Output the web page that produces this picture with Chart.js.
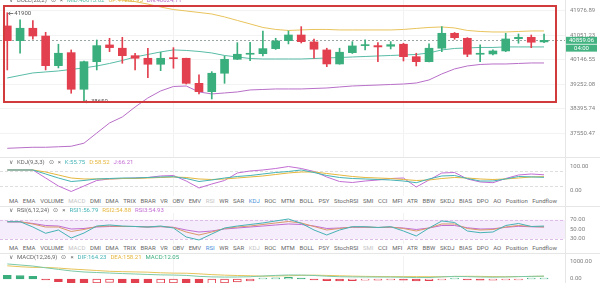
<!DOCTYPE html>
<html>
<head>
<meta charset="utf-8">
<script src="https://cdn.jsdelivr.net/npm/chart.js@4.4.1/dist/chart.umd.min.js"></script>
<style>
body{margin:0;background:#fff;font-family:Roboto,"Noto Sans",sans-serif}
#wrap{position:relative;width:600px;height:283px;overflow:hidden;background:#fff}
canvas{position:absolute;left:0}
.sep{position:absolute;background:#e6e6e6}
.title{position:absolute;left:9px;font-size:6px;color:#666;white-space:nowrap;line-height:8px}
.title span{margin-right:4px}
.tabs{position:absolute;left:9px;width:548px;display:flex;justify-content:space-between;font-size:6px;color:#666;line-height:8px;white-space:nowrap}
.box{position:absolute;left:3px;top:5px;width:554px;height:98px;border:2px solid #d23b3b;box-sizing:border-box}
</style>
</head>
<body>
<div id="wrap">
  <canvas id="main" width="600" height="157" style="top:0"></canvas>
  <canvas id="kdj" width="600" height="36" style="top:160px"></canvas>
  <canvas id="rsi" width="600" height="31" style="top:213px"></canvas>
  <canvas id="macd" width="600" height="27" style="top:256px"></canvas>
  <div class="sep" style="left:0;top:157px;width:600px;height:1px"></div>
  <div class="sep" style="left:0;top:206px;width:600px;height:1px"></div>
  <div class="sep" style="left:0;top:253px;width:600px;height:1px"></div>
  <div class="sep" style="left:565px;top:0;width:1px;height:283px"></div>
  <div class="box"></div>
  <div class="title" id="tBoll" style="top:-4px"></div>
  <div class="title" id="tKdj" style="top:158px"></div>
  <div class="tabs" id="tabs1" style="top:197px"></div>
  <div class="title" id="tRsi" style="top:206px"></div>
  <div class="tabs" id="tabs2" style="top:244px"></div>
  <div class="title" id="tMacd" style="top:253px"></div>
</div>
<script>
// candles (4h)
const open  = [41398,40847,41311,41020,39927,40403,39077,40072,40688,40566,40292,40196,39978,40218,40196,39290,38992,39652,40159,40344,40366,40551,40847,41058,40799,40503,39989,40403,40662,40662,40640,40714,40255,40072,40566,41122,40935,40344,40355,40466,40921,40972,40800]
const high  = [41900,41625,41599,41160,40714,40503,40090,40872,40935,40972,40381,40566,40418,40588,40200,39591,39710,40281,40773,40788,41209,40936,41209,41372,40910,40566,40566,40810,40873,40773,40810,40751,40381,40725,41372,41152,40960,40688,40503,41122,41096,41058,41096]
const low   = [39771,40381,40898,39771,39844,38936,38650,39771,40440,40014,39771,39493,39746,39833,39265,38911,38734,39290,40150,40108,40281,40521,40725,40761,40196,39891,39980,40373,40503,40072,40540,40097,39916,40065,40440,40898,40255,40072,40318,40440,40751,40588,40773]
const close = [40847,41311,41020,39927,40381,39077,40072,40662,40588,40292,40196,39978,40196,40181,39290,38992,39652,40159,40344,40381,40551,40836,41058,40810,40529,39989,40418,40651,40699,40614,40699,40255,40072,40566,41122,40958,40344,40381,40466,40910,40972,40788,40859.06]

// BOLL(20,2)
const bollUp  = [42533,42571,42609,42609,42609,42609,42571,42533,42457,42382,42325,42230,42117,42022,41966,41909,41852,41739,41606,41474,41341,41266,41228,41247,41266,41266,41247,41247,41247,41247,41247,41266,41304,41341,41360,41322,41228,41190,41171,41171,41190,41209,41208.95]
const bollMid = [39482,39573,39663,39699,39735,39790,39844,39916,40007,40115,40244,40336,40429,40503,40484,40447,40392,40299,40244,40188,40170,40170,40170,40170,40188,40207,40225,40244,40262,40281,40299,40318,40336,40392,40503,40558,40577,40595,40595,40614,40614,40614,40613.62]
const bollDn  = [37031,37049,37066,37066,37083,37101,37204,37550,37896,38104,38451,38769,39017,39176,39194,38982,38911,38946,38982,39053,39070,39088,39088,39088,39106,39123,39159,39194,39212,39229,39247,39265,39301,39410,39627,39808,39916,39970,39988,39988,40007,40025,40024.71]

// KDJ(9,3,3)
const kdjK = [86.3,86.3,86.3,69.6,52.9,38.3,42.5,48.8,50.8,52.9,52.9,55.0,57.1,58.3,50.8,38.3,44.6,52.9,59.2,63.3,69.6,75.8,80.0,86.3,75.8,63.3,55.0,50.8,48.8,46.7,44.6,40.4,33.3,48.8,61.3,63.3,50.8,40.4,40.4,48.8,59.2,57.5,55.75]
const kdjD = [86.3,86.3,86.3,77.9,65.4,52.9,48.8,48.8,48.8,50.8,50.8,52.9,55.0,57.1,55.0,48.8,46.7,48.8,52.9,57.1,61.3,67.5,73.8,77.9,77.9,71.7,65.4,59.2,55.0,52.9,50.8,46.7,42.5,44.6,50.8,55.0,52.9,48.8,46.7,48.8,52.9,57.1,58.52]
const kdjJ = [86.3,86.3,86.3,52.9,19.6,-3.3,19.6,42.5,48.8,50.8,52.9,55.0,61.3,63.3,40.4,11.3,27.9,42.5,73.8,82.1,86.3,92.5,100.8,92.5,80.0,57.1,38.3,34.2,40.4,44.6,50.8,52.9,15.4,44.6,73.8,75.8,48.8,36.3,33.3,50.8,65.4,69.6,66.21]

// RSI(6,12,24)
const rsi1 = [66.0,66.0,54.8,41.6,48.5,31.7,42.2,56.9,59.1,56.9,55.9,54.8,56.9,52.7,33.8,27.5,40.1,52.7,56.9,60.1,63.3,67.5,71.7,62.6,48.5,38.0,48.5,55.5,55.5,53.8,55.5,46.4,35.9,52.7,67.5,64.3,46.4,42.8,44.3,58.0,62.2,55.9,56.79]
const rsi2 = [66.0,66.0,61.2,54.8,54.8,45.4,49.6,55.9,56.9,55.9,55.9,54.8,55.9,53.8,44.3,38.0,44.3,51.7,54.8,56.9,60.1,63.3,66.4,63.3,55.9,48.5,51.7,54.8,54.8,53.8,54.8,51.7,46.4,52.7,61.2,61.2,51.7,48.5,49.6,54.8,58.0,55.9,54.88]
const rsi3 = [65.4,65.4,62.2,58.0,56.9,50.6,51.7,54.8,55.9,55.9,55.9,54.8,55.5,54.2,48.5,44.3,46.4,50.6,52.7,54.8,56.9,59.1,61.2,60.1,56.9,51.7,52.7,54.2,54.2,53.8,54.2,52.7,49.6,52.7,58.0,58.0,53.2,50.6,51.1,54.2,56.3,55.3,54.93]

// MACD(12,26,9)
const dif  = [860,800,740,640,550,460,400,370,340,310,285,260,235,225,205,150,120,110,115,130,170,205,230,225,200,160,130,120,115,112,110,100,80,85,120,150,135,115,105,115,135,150,164.23]
const dea  = [755,700,665,660,625,570,530,485,440,420,405,390,355,335,330,295,250,220,200,185,160,175,185,205,220,205,185,165,150,142,135,135,135,130,130,145,155,150,135,130,140,148,158.21]
const hist = [210,200,150,-40,-150,-220,-260,-230,-200,-220,-240,-260,-240,-220,-250,-290,-260,-220,-170,-110,20,60,90,40,-40,-90,-110,-90,-70,-60,-50,-70,-110,-90,-20,10,-40,-70,-60,-30,-10,5,12.05]

const priceTicks = [41976.89, 41051.23, 40146.55, 39252.08, 38395.74, 37550.47]
const countdown = '04:00'
const tabs = ['MA','EMA','VOLUME','MACD','DMI','DMA','TRIX','BRAR','VR','OBV','EMV','RSI','WR','SAR','KDJ','ROC','MTM','BOLL','PSY','StochRSI','SMI','CCI','MFI','ATR','BBW','SKDJ','BIAS','DPO','AO','Position','Fundflow']

const UP = '#3aae7c', DOWN = '#e2404f'
const C1 = '#45b3b5', C2 = '#e6b73e', C3 = '#c26dd3'

Chart.defaults.font.family = 'Roboto'
Chart.defaults.font.size = 6

const pts = arr => arr.map((v, i) => ({ x: i, y: v }))
const line = (arr, color) => ({ type: 'line', data: pts(arr), borderColor: color, borderWidth: 1, pointRadius: 0, tension: 0, order: 5 })

function xAxis() {
  return {
    type: 'linear', min: -0.571, max: 43.64, offset: false,
    afterBuildTicks: s => { s.ticks = [13, 31].map(v => ({ value: v })) },
    afterFit: s => { s.height = 0 },
    ticks: { display: false },
    grid: { color: '#f2f2f2', drawTicks: false, offset: false },
    border: { display: false }
  }
}
function yAxis(type, min, max, ticks, grid) {
  return {
    type, position: 'right', min, max,
    afterBuildTicks: s => { s.ticks = ticks.map(v => ({ value: v })) },
    afterFit: s => { s.width = 35; s.paddingTop = 0; s.paddingBottom = 0 },
    grid: { display: grid, color: '#f3f3f3', drawTicks: false },
    border: { display: false },
    ticks: { padding: 5, color: '#808080', font: { size: 6 }, callback: v => Number(v).toFixed(2) }
  }
}
function options(y, plug) {
  return {
    responsive: false, animation: false, events: [],
    layout: { padding: 0 },
    scales: { x: xAxis(), y },
    plugins: Object.assign({ legend: { display: false }, tooltip: { enabled: false } }, plug || {})
  }
}

// dashed reference lines / band, drawn with the chart's y scale
const refLines = {
  id: 'refLines',
  beforeDatasetsDraw(chart, args, o) {
    const { ctx, chartArea: a, scales: { y } } = chart
    ctx.save()
    if (o.band) {
      const t = y.getPixelForValue(o.band[1]), b = y.getPixelForValue(o.band[0])
      ctx.fillStyle = o.bandColor
      ctx.fillRect(a.left, t, a.right - a.left, b - t)
    }
    ctx.strokeStyle = o.color; ctx.lineWidth = 1; ctx.setLineDash([3, 2])
    ;(o.lines || []).forEach(v => {
      const py = Math.round(y.getPixelForValue(v)) + 0.5
      ctx.beginPath(); ctx.moveTo(a.left, py); ctx.lineTo(a.right, py); ctx.stroke()
    })
    ctx.restore()
  }
}

const lastPrice = {
  id: 'lastPrice',
  beforeDatasetsDraw(chart) {
    const { ctx, chartArea: a, scales: { y } } = chart
    const py = Math.round(y.getPixelForValue(close[close.length - 1])) + 0.5
    ctx.save(); ctx.strokeStyle = '#9aa6a4'; ctx.lineWidth = 1; ctx.setLineDash([2, 2])
    ctx.beginPath(); ctx.moveTo(a.left, py); ctx.lineTo(a.right, py); ctx.stroke()
    ctx.restore()
  },
  afterDraw(chart) {
    const { ctx, chartArea: a, scales: { y } } = chart
    const py = y.getPixelForValue(close[close.length - 1])
    ctx.save()
    ctx.fillStyle = '#41b280'
    ctx.fillRect(a.right + 1, py - 3.5, 31, 7)
    ctx.fillRect(a.right + 1, py + 4.3, 31, 7)
    ctx.fillStyle = '#fff'; ctx.font = '6px Roboto'; ctx.textAlign = 'center'; ctx.textBaseline = 'middle'
    ctx.fillText(close[close.length - 1].toFixed(2), a.right + 16.5, py)
    ctx.fillText(countdown, a.right + 16.5, py + 7.8)
    ctx.restore()
  }
}

const extremes = {
  id: 'extremes',
  afterDatasetsDraw(chart) {
    const { ctx, scales: { x, y } } = chart
    const hi = high.indexOf(Math.max(...high)), lo = low.indexOf(Math.min(...low))
    ctx.save(); ctx.strokeStyle = '#777'; ctx.fillStyle = '#555'; ctx.lineWidth = 1
    ctx.font = '6px Roboto'; ctx.textBaseline = 'middle'
    const mark = (i, v) => {
      const px = x.getPixelForValue(i), py = Math.round(y.getPixelForValue(v)) + 0.5
      ctx.beginPath(); ctx.moveTo(px + 1, py); ctx.lineTo(px + 6, py)
      ctx.moveTo(px + 1, py); ctx.lineTo(px + 3, py - 1.5)
      ctx.moveTo(px + 1, py); ctx.lineTo(px + 3, py + 1.5); ctx.stroke()
      ctx.fillText(String(Math.round(v)), px + 7, py)
    }
    mark(hi, high[hi]); mark(lo, low[lo])
    ctx.restore()
  }
}

// main: candles + BOLL
const candleColor = close.map((c, i) => c >= open[i] ? UP : DOWN)
new Chart(document.getElementById('main'), {
  type: 'bar',
  data: {
    datasets: [
      { data: close.map((c, i) => ({ x: i, y: [low[i], high[i]] })), backgroundColor: candleColor, barThickness: 1, grouped: false, order: 1 },
      { data: close.map((c, i) => ({ x: i, y: [open[i], c] })), backgroundColor: candleColor, barThickness: 8, minBarLength: 1, grouped: false, order: 0 },
      line(bollUp, '#e9c35c'), line(bollMid, '#58bca6'), line(bollDn, '#b86fc8')
    ]
  },
  options: options(yAxis('logarithmic', 36739, 42388, priceTicks, true)),
  plugins: [lastPrice, extremes]
})

new Chart(document.getElementById('kdj'), {
  type: 'line',
  data: { datasets: [line(kdjK, C1), line(kdjD, C2), line(kdjJ, C3)] },
  options: options(yAxis('linear', -22.1, 127.9, [0, 100], false), { refLines: { lines: [80, 20], color: '#dedede' } }),
  plugins: [refLines]
})

new Chart(document.getElementById('rsi'), {
  type: 'line',
  data: { datasets: [line(rsi1, C1), line(rsi2, '#d99a6a'), line(rsi3, C3)] },
  options: options(yAxis('linear', 19.05, 84.3, [30, 50, 70], false), { refLines: { band: [30, 70], bandColor: '#f5edfb', lines: [70, 30], color: '#dcbde8' } }),
  plugins: [refLines]
})

const histColor = hist.map(v => v >= 0 ? UP : DOWN)
const histFill = hist.map((v, i) => (i > 0 && v > hist[i - 1]) ? '#fff' : histColor[i])
new Chart(document.getElementById('macd'), {
  type: 'bar',
  data: {
    datasets: [
      { data: pts(hist), backgroundColor: histFill, borderColor: histColor, borderWidth: 1, borderSkipped: false, barThickness: 8, minBarLength: 1, grouped: false, order: 1 },
      line(dif, '#7cc9a8'), line(dea, '#e6c45a')
    ]
  },
  options: options(yAxis('linear', -228.6, 1314, [0, 1000], false))
})

// titles and tab rows
const f2 = v => v.toFixed(2)
const L = a => a[a.length - 1]
const head = (name, parts) => '<span>&#8744;</span><span>' + name + '</span><span>&#8857;</span><span>&#215;</span>' +
  parts.map(p => '<span style="color:' + p[1] + '">' + p[0] + '</span>').join('')
document.getElementById('tBoll').innerHTML = head('BOLL(20,2)', [['MID:' + f2(L(bollMid)), '#58bca6'], ['UP:' + f2(L(bollUp)), '#e0b43e'], ['DN:' + f2(L(bollDn)), '#b86fc8']])
document.getElementById('tKdj').innerHTML = head('KDJ(9,3,3)', [['K:' + f2(L(kdjK)), C1], ['D:' + f2(L(kdjD)), C2], ['J:' + f2(L(kdjJ)), C3]])
document.getElementById('tRsi').innerHTML = head('RSI(6,12,24)', [['RSI1:' + f2(L(rsi1)), C1], ['RSI2:' + f2(L(rsi2)), C2], ['RSI3:' + f2(L(rsi3)), C3]])
document.getElementById('tMacd').innerHTML = head('MACD(12,26,9)', [['DIF:' + f2(L(dif)), C1], ['DEA:' + f2(L(dea)), C2], ['MACD:' + f2(L(hist)), '#3aae7c']])

function tabRow(id, active, muted) {
  document.getElementById(id).innerHTML = tabs.map(t => {
    const c = t === active ? '#4a90d9' : (muted.includes(t) ? '#c4c4c4' : '#666')
    return '<span style="color:' + c + '">' + t + '</span>'
  }).join('')
}
tabRow('tabs1', 'KDJ', ['MACD', 'RSI'])
tabRow('tabs2', 'RSI', ['MACD', 'KDJ', 'SMI'])
</script>
</body>
</html>
